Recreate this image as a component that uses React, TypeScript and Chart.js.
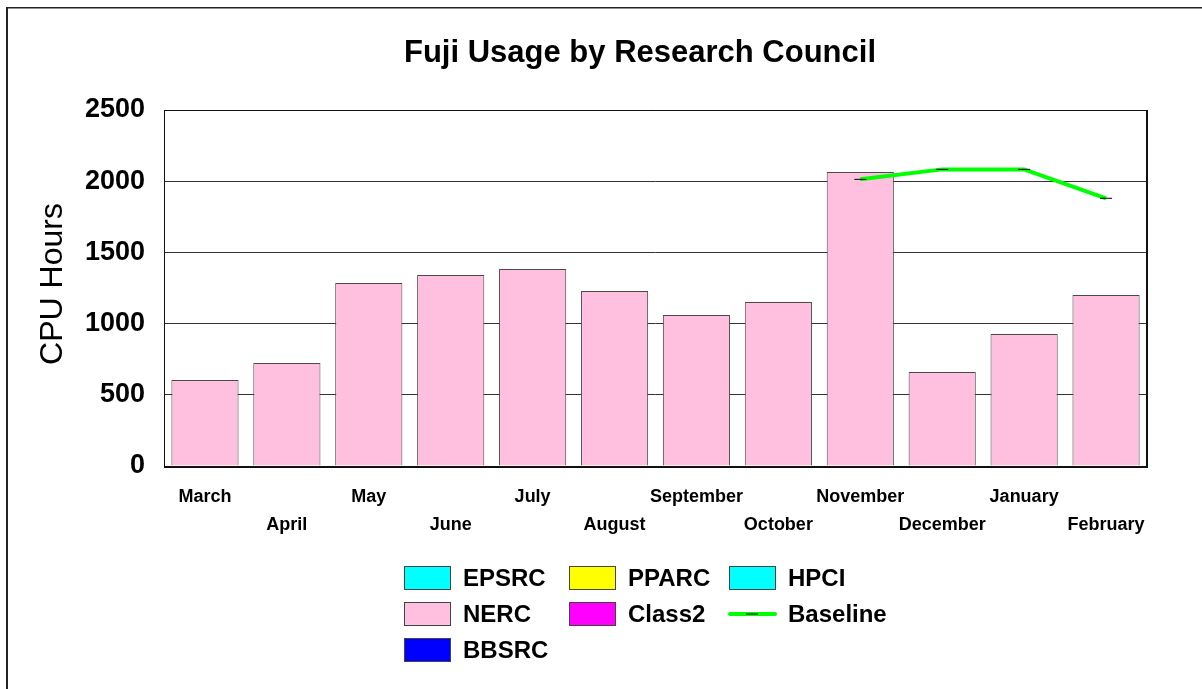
import React, { useEffect, useRef } from "react";
import { Chart, registerables } from "chart.js";

Chart.register(...registerables);

const FONT = '"Liberation Sans", Arial, Helvetica, sans-serif';

const months = [
  "March", "April", "May", "June", "July", "August",
  "September", "October", "November", "December", "January", "February",
];
const nercValues = [604, 723, 1285, 1341, 1383, 1229, 1060, 1152, 2065, 660, 927, 1201];
const epsrcValues = [0, 0, 0, 0, 0, 0, 0, 0, 0, 0, 0, 0];
const pparcValues = [0, 0, 0, 0, 0, 0, 0, 0, 0, 0, 0, 0];
const hpciValues = [0, 0, 0, 0, 0, 0, 0, 0, 0, 0, 0, 0];
const class2Values = [0, 0, 0, 0, 0, 0, 0, 0, 0, 0, 0, 0];
const bbsrcValues = [0, 0, 0, 0, 0, 0, 0, 0, 0, 0, 0, 0];
const baselineValues = [null, null, null, null, null, null, null, null, 2013, 2083, 2083, 1880];
const yTicks = [0, 500, 1000, 1500, 2000, 2500];

const chartTitle = "Fuji Usage by Research Council";
const yTitle = "CPU Hours";

// Alternate label rows: even index on first line, odd on second
const xLabels = months.map((m, i) => (i % 2 === 0 ? [m, ""] : ["", m]));

const decorPlugin = {
  id: "decor",
  beforeDraw(chart: any) {
    const ctx = chart.ctx;
    ctx.save();
    ctx.fillStyle = "#ffffff";
    ctx.fillRect(0, 0, chart.width, chart.height);
    // outer frame (extends beyond the visible area on right/bottom)
    ctx.fillStyle = "#222222";
    ctx.fillRect(6, 7, 2, chart.height);
    ctx.fillRect(6, 7, chart.width, 1.5);
    // title
    ctx.fillStyle = "#000";
    ctx.font = `bold 31px ${FONT}`;
    ctx.textAlign = "center";
    ctx.textBaseline = "alphabetic";
    ctx.fillText(chartTitle, 640, 62);
    // y title
    ctx.translate(62, 284);
    ctx.rotate(-Math.PI / 2);
    ctx.font = `32px ${FONT}`;
    ctx.fillText(yTitle, 0, 0);
    ctx.restore();
  },
  afterDatasetsDraw(chart: any) {
    const ctx = chart.ctx;
    const a = chart.chartArea;
    ctx.save();
    // plot frame
    ctx.strokeStyle = "#111";
    ctx.lineWidth = 1;
    ctx.beginPath();
    ctx.moveTo(a.left + 0.5, a.bottom);
    ctx.lineTo(a.left + 0.5, a.top + 0.5);
    ctx.lineTo(a.right, a.top + 0.5);
    ctx.stroke();
    ctx.lineWidth = 2;
    ctx.beginPath();
    ctx.moveTo(a.right, a.top);
    ctx.lineTo(a.right, a.bottom + 1);
    ctx.lineTo(a.left, a.bottom + 1);
    ctx.stroke();

    // legend
    const order = ["EPSRC", "PPARC", "HPCI", "NERC", "Class2", "Baseline", "BBSRC"];
    const colX = [404, 569, 729];
    const rowY = [578, 614, 650];
    ctx.font = `bold 24px ${FONT}`;
    ctx.textAlign = "left";
    ctx.textBaseline = "middle";
    order.forEach((name, i) => {
      const ds = chart.data.datasets.find((d: any) => d.label === name);
      if (!ds) return;
      const x = colX[i % 3];
      const y = rowY[Math.floor(i / 3)];
      if (ds.type === "line") {
        ctx.strokeStyle = ds.borderColor;
        ctx.lineWidth = 4;
        ctx.lineCap = "round";
        ctx.beginPath();
        ctx.moveTo(x + 1, y);
        ctx.lineTo(x + 46, y);
        ctx.stroke();
        ctx.strokeStyle = "#000";
        ctx.lineWidth = 1;
        ctx.lineCap = "butt";
        ctx.beginPath();
        ctx.moveTo(x + 17, y);
        ctx.lineTo(x + 29, y);
        ctx.stroke();
      } else {
        ctx.fillStyle = ds.backgroundColor;
        ctx.fillRect(x, y - 12, 47, 24);
        ctx.strokeStyle = "#444";
        ctx.lineWidth = 1;
        ctx.strokeRect(x + 0.5, y - 11.5, 46, 23);
      }
      ctx.fillStyle = "#000";
      ctx.fillText(name, x + 59, y + 1);
    });
    ctx.restore();
  },
};

export default function App() {
  const ref = useRef<HTMLCanvasElement | null>(null);

  useEffect(() => {
    if (!ref.current) return;
    const zeroBar = (label: string, data: number[], color: string) => ({
      type: "bar" as const,
      label,
      data,
      backgroundColor: color,
      borderColor: "#444",
      borderWidth: 0,
      stack: "councils",
    });
    const chart = new Chart(ref.current, {
      type: "bar",
      data: {
        labels: xLabels as any,
        datasets: [
          zeroBar("EPSRC", epsrcValues, "#00FFFF"),
          zeroBar("PPARC", pparcValues, "#FFFF00"),
          zeroBar("HPCI", hpciValues, "#00FFFF"),
          {
            type: "bar",
            label: "NERC",
            data: nercValues,
            backgroundColor: "#FFC0E0",
            borderColor: "#4a4a4a",
            borderWidth: 1,
            stack: "councils",
          },
          zeroBar("Class2", class2Values, "#FF00FF"),
          zeroBar("BBSRC", bbsrcValues, "#0000FF"),
          {
            type: "line",
            label: "Baseline",
            data: baselineValues,
            borderColor: "#00FF00",
            backgroundColor: "#00FF00",
            borderWidth: 4,
            pointStyle: "line",
            pointRadius: 6,
            pointBorderColor: "#000",
            pointBorderWidth: 1,
            pointBackgroundColor: "#000",
            stack: "baseline",
            spanGaps: false,
            order: -1,
          } as any,
        ],
      },
      options: {
        animation: false,
        responsive: false,
        maintainAspectRatio: false,
        layout: { padding: { top: 110, right: 55, left: 0, bottom: 0 } },
        datasets: {
          bar: { barPercentage: 0.82, categoryPercentage: 1 },
        },
        plugins: {
          legend: { display: false },
          title: { display: false },
          tooltip: { enabled: false },
        },
        scales: {
          x: {
            stacked: true,
            grid: { display: false, drawTicks: false },
            border: { display: false },
            ticks: {
              autoSkip: false,
              maxRotation: 0,
              minRotation: 0,
              padding: 17,
              color: "#000",
              font: { family: FONT, size: 18, weight: "bold", lineHeight: "28px" as any },
            },
            afterFit(scale: any) {
              scale.height = 689 - 466;
            },
          },
          y: {
            stacked: true,
            min: 0,
            max: 2500,
            afterBuildTicks(scale: any) {
              scale.ticks = yTicks.map((v) => ({ value: v }));
            },
            grid: { color: "#333333", lineWidth: 1, drawTicks: false },
            border: { display: false },
            ticks: {
              padding: 19,
              color: "#000",
              font: { family: FONT, size: 27, weight: "bold" },
              callback: (v: any) => String(v),
            },
            afterFit(scale: any) {
              scale.width = 164;
            },
          },
        },
      },
      plugins: [decorPlugin],
    });
    return () => chart.destroy();
  }, []);

  return (
    <div style={{ position: "fixed", left: 0, top: 0, width: 1202, height: 689, background: "#fff" }}>
      <canvas ref={ref} width={1202} height={689} style={{ display: "block", width: 1202, height: 689 }} />
    </div>
  );
}
